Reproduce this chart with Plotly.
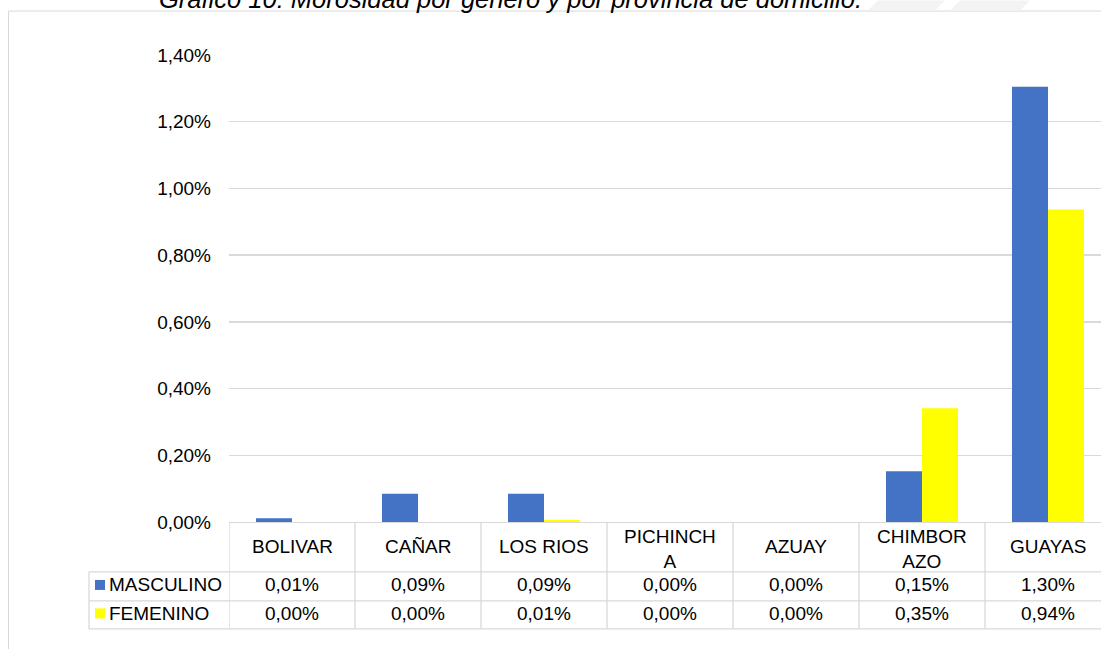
import plotly.graph_objects as go

# ---- data ----
provincias = ["BOLIVAR", "CAÑAR", "LOS RIOS", "PICHINCHA", "AZUAY", "CHIMBORAZO", "GUAYAS"]
header_labels = ["BOLIVAR", "CAÑAR", "LOS RIOS", "PICHINCH<br>A", "AZUAY", "CHIMBOR<br>AZO", "GUAYAS"]
masculino = [0.011, 0.085, 0.085, 0.0, 0.0, 0.152, 1.305]
femenino = [0.0, 0.0, 0.006, 0.0, 0.0, 0.341, 0.937]
masc_labels = ["0,01%", "0,09%", "0,09%", "0,00%", "0,00%", "0,15%", "1,30%"]
fem_labels = ["0,00%", "0,00%", "0,01%", "0,00%", "0,00%", "0,35%", "0,94%"]
series_names = ["MASCULINO", "FEMENINO"]
series_colors = ["#4472C4", "#FFFF00"]
y_ticks = [0, 0.2, 0.4, 0.6, 0.8, 1.0, 1.2, 1.4]
y_tick_text = ["0,00%", "0,20%", "0,40%", "0,60%", "0,80%", "1,00%", "1,20%", "1,40%"]
title_text = "Gráfico 10: Morosidad por género y por provincia de domicilio."

# ---- geometry (screen pixels; page body margin removed) ----
W, H = 1101, 649
PL, PT, PB = 229, 54.5, 522      # plot area left/top/bottom
PR = W                            # plot area runs to the figure's right edge
CAT_W = 126.0
plot_w = PR - PL
plot_h = PB - PT
FONT = "Liberation Sans, Arial, sans-serif"
GRID = "#D9D9D9"


def px(xp):
    return (xp - PL) / plot_w


def py(yp):
    return (PB - yp) / plot_h


x_idx = list(range(len(provincias)))
x_max = -0.5 + plot_w / CAT_W

fig = go.Figure()
for name, vals, col in zip(series_names, [masculino, femenino], series_colors):
    fig.add_trace(go.Bar(x=x_idx, y=vals, name=name, marker=dict(color=col, line=dict(width=0)),
                         hoverinfo="skip"))

shapes = []
annotations = []

# outer frame
shapes.append(dict(type="rect", xref="paper", yref="paper",
                   x0=px(8.5), x1=px(1130), y0=py(700), y1=py(10.5),
                   line=dict(color="#D9D9D9", width=1), fillcolor="rgba(0,0,0,0)", layer="below"))
# faint decorative band at the top right
for (a, b) in [(868, 935), (950, 1020)]:
    shapes.append(dict(type="path", xref="paper", yref="paper",
                       path=f"M {px(a+10)},{py(0)} L {px(b+10)},{py(0)} L {px(b)},{py(10)} L {px(a)},{py(10)} Z",
                       fillcolor="#F3F3F3", line=dict(width=0), layer="below"))

# table lines
row_tops = [572, 601, 629]
for yy in row_tops:
    shapes.append(dict(type="line", xref="paper", yref="paper", x0=px(89), x1=px(1130),
                       y0=py(yy), y1=py(yy), line=dict(color=GRID, width=1.3)))
# legend column left edge
shapes.append(dict(type="line", xref="paper", yref="paper", x0=px(89), x1=px(89),
                   y0=py(572), y1=py(629), line=dict(color=GRID, width=1.3)))
# category boundaries
for i in range(len(provincias) + 1):
    xb = i - 0.5
    shapes.append(dict(type="line", xref="x", yref="paper", x0=xb, x1=xb,
                       y0=py(PB), y1=py(629), line=dict(color=GRID, width=1.3)))

# header labels
for i, lab in enumerate(header_labels):
    yc = 549.5 if "<br>" in lab else 547
    annotations.append(dict(x=i, y=py(yc), xref="x", yref="paper", text=lab, showarrow=False,
                            font=dict(size=19, color="#000000", family=FONT),
                            xanchor="center", yanchor="middle", align="center"))
# value rows
rows_y = [585, 613.5]
for row_y, labels in zip(rows_y, [masc_labels, fem_labels]):
    for i, lab in enumerate(labels):
        annotations.append(dict(x=i, y=py(row_y), xref="x", yref="paper", text=lab, showarrow=False,
                                font=dict(size=19, color="#000000", family=FONT),
                                xanchor="center", yanchor="middle"))
# legend keys inside the table
for row_y, name, col in zip(rows_y, series_names, series_colors):
    shapes.append(dict(type="rect", xref="paper", yref="paper", x0=px(95), x1=px(105),
                       y0=py(row_y + 5), y1=py(row_y - 5), fillcolor=col, line=dict(width=0)))
    annotations.append(dict(x=px(107), y=py(row_y), xref="paper", yref="paper", text=name,
                            showarrow=False, font=dict(size=19, color="#000000", family=FONT),
                            xanchor="left", yanchor="middle"))

# title (cut off at top edge, as in the source)
annotations.append(dict(x=px(510), y=py(-2), xref="paper", yref="paper",
                        text=f"<i>{title_text}</i>", showarrow=False,
                        font=dict(size=25.5, color="#000000", family=FONT),
                        xanchor="center", yanchor="middle"))

fig.update_layout(
    width=W, height=H,
    margin=dict(l=PL, r=W - PR, t=PT, b=H - PB, pad=0, autoexpand=False),
    paper_bgcolor="#FFFFFF", plot_bgcolor="#FFFFFF",
    barmode="group", bargap=1 - 72 / CAT_W, bargroupgap=0,
    showlegend=False,
    font=dict(family=FONT, size=19, color="#000000"),
    xaxis=dict(range=[-0.5, x_max], showticklabels=False, showgrid=False, zeroline=False,
               showline=True, linecolor=GRID, linewidth=1.3, ticks="", fixedrange=True),
    yaxis=dict(range=[0, 1.4], tickvals=y_ticks, ticktext=y_tick_text, showgrid=True,
               gridcolor=GRID, gridwidth=1.3, zeroline=False, showline=False, ticks="",
               ticklabelstandoff=17, tickfont=dict(size=19, color="#000000", family=FONT),
               fixedrange=True),
    shapes=shapes, annotations=annotations,
)

fig.write_html("out.html", config={"displayModeBar": False, "staticPlot": True},
               post_script="document.body.style.margin='0px';")
